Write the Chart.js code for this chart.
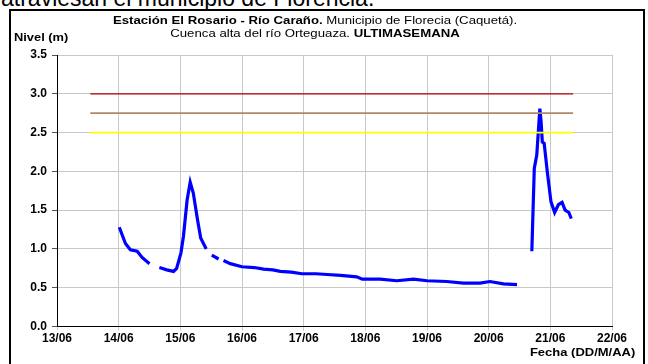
<!DOCTYPE html>
<html>
<head>
<meta charset="utf-8">
<script src="https://cdn.jsdelivr.net/npm/chart.js@4.4.1/dist/chart.umd.min.js"></script>
<style>
  html, body { margin: 0; padding: 0; background: #fff; }
  body { width: 648px; height: 364px; overflow: hidden; position: relative; font-family: "Liberation Sans", Arial, sans-serif; }
  #arriba { position: absolute; left: 1px; top: -15px; font-size: 23px; color: #000; white-space: nowrap; }
  #marco { position: absolute; left: 9px; top: 9px; width: 632px; height: 400px; border: 2px solid #000; background: #fff; }
  #grafico { position: absolute; left: 0; top: 0; }
  .txt { position: absolute; color: #000; white-space: nowrap; font-size: 11px; }
  #titulo1 { left: 0; width: 630px; top: 14px; text-align: center; transform: scaleX(1.2); transform-origin: 315px 0; }
  #titulo2 { left: 0; width: 630px; top: 27px; text-align: center; transform: scaleX(1.2); transform-origin: 315px 0; }
  #ejeY { left: 14px; top: 31px; font-weight: bold; transform: scaleX(1.17); transform-origin: 0 0; }
  #ejeX { right: 13px; top: 346px; font-weight: bold; transform: scaleX(1.18); transform-origin: 100% 0; }
</style>
</head>
<body>
<div id="arriba">atraviesan el municipio de Florencia.</div>
<div id="marco"></div>
<canvas id="grafico" width="648" height="364"></canvas>
<div class="txt" id="titulo1"><b>Estación El Rosario - Río Caraño.</b> Municipio de Florecia (Caquetá).</div>
<div class="txt" id="titulo2">Cuenca alta del río Orteguaza. <b>ULTIMASEMANA</b></div>
<div class="txt" id="ejeY">Nivel (m)</div>
<div class="txt" id="ejeX">Fecha (DD/M/AA)</div>
<script>
'use strict';

// dia del mes de junio (con fraccion de dia) y nivel en metros, null = sin dato
let fechas = [14.01, 14.11, 14.19, 14.30, 14.38, 14.50, 14.58, 14.66, 14.78, 14.89, 14.94,
  15.01, 15.05, 15.11, 15.16, 15.21, 15.28, 15.33, 15.42, 15.46, 15.51, 15.62, 15.66, 15.70,
  15.81, 16.00, 16.20, 16.35, 16.50, 16.62, 16.80, 16.97, 17.20, 17.38, 17.60, 17.86, 17.95,
  18.24, 18.51, 18.78, 19.00, 19.32, 19.59, 19.86, 20.02, 20.24, 20.46, 20.60,
  20.70, 20.74, 20.78, 20.83, 20.85, 20.87, 20.90, 20.95, 21.01, 21.07, 21.13, 21.19, 21.24, 21.30, 21.34];
let nivel = [1.28, 1.07, 0.99, 0.97, 0.89, 0.81, null, 0.76, 0.73, 0.71, 0.75,
  0.95, 1.16, 1.63, 1.86, 1.72, 1.37, 1.14, 1.00, null, 0.92, 0.87, null, 0.85,
  0.81, 0.77, 0.76, 0.74, 0.73, 0.71, 0.70, 0.68, 0.68, 0.67, 0.66, 0.64, 0.61,
  0.61, 0.59, 0.61, 0.59, 0.58, 0.56, 0.56, 0.58, 0.55, 0.54, null,
  0.97, 2.04, 2.21, 2.81, 2.64, 2.38, 2.36, 2.00, 1.61, 1.47, 1.57, 1.60, 1.50, 1.47, 1.39];

// niveles de alerta
let umbrales = [3.0, 2.75, 2.5];
let umbralColores = ['#b00000', '#b08868', '#ffff00'];
let umbralInicio = 13.54;
let umbralFin = 21.37;

let ticksY = [0, 0.5, 1.0, 1.5, 2.0, 2.5, 3.0, 3.5];

let puntosNivel = [];
for (let i = 0; i < fechas.length; i++) {
  puntosNivel.push({x: fechas[i], y: nivel[i]});
}

let conjuntos = [];
for (let i = 0; i < umbrales.length; i++) {
  conjuntos.push({
    data: [{x: umbralInicio, y: umbrales[i]}, {x: umbralFin, y: umbrales[i]}],
    borderColor: umbralColores[i],
    borderWidth: i === 0 ? 1.2 : 1.8,
    pointRadius: 0,
    showLine: true
  });
}
conjuntos.push({
  data: puntosNivel,
  borderColor: '#0000ff',
  borderWidth: 3.2,
  pointRadius: 0,
  showLine: true,
  spanGaps: false,
  tension: 0
});

const fuenteEje = {family: '"Liberation Sans", Arial, sans-serif', size: 12, weight: 'bold'};

new Chart(document.getElementById('grafico').getContext('2d'), {
  type: 'scatter',
  data: {datasets: conjuntos},
  options: {
    responsive: false,
    animation: false,
    layout: {padding: {left: 0, top: 55, right: 36, bottom: 0}},
    plugins: {legend: {display: false}, tooltip: {enabled: false}},
    scales: {
      x: {
        type: 'linear',
        min: 13,
        max: 22,
        afterFit: function(s) { s.height = 37.5; },
        ticks: {
          stepSize: 1,
          color: '#000',
          font: fuenteEje,
          padding: 1,
          maxRotation: 0,
          callback: function(v) { return (v < 10 ? '0' : '') + v + '/06'; }
        },
        grid: {color: '#c8c8c8', tickColor: '#c8c8c8', tickLength: 4},
        border: {color: '#000', width: 1}
      },
      y: {
        min: 0,
        max: 3.5,
        afterFit: function(s) { s.width = 57; },
        afterBuildTicks: function(s) { s.ticks = ticksY.map(function(v) { return {value: v}; }); },
        ticks: {
          color: '#000',
          font: fuenteEje,
          padding: 5,
          callback: function(v) { return v.toFixed(1); }
        },
        grid: {color: '#c8c8c8', tickColor: '#555', tickLength: 5},
        border: {color: '#000', width: 1}
      }
    }
  }
});
</script>
</body>
</html>
